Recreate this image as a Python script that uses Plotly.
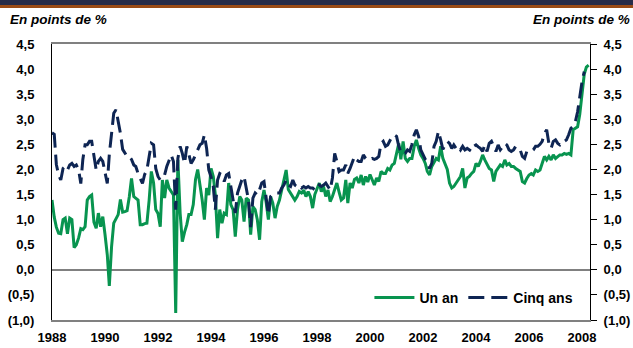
import pandas as pd
import plotly.graph_objects as go

# Monthly spreads, in percentage points, from January 1988
un_an = [
    1.39, 1.05, 0.85, 0.73, 0.72, 1.00, 1.03, 0.72, 1.03, 1.00, 0.44, 0.50,   # 1988
    0.63, 0.82, 0.80, 0.86, 1.39, 1.46, 1.49, 0.95, 0.83, 1.13, 0.86, 1.06,   # 1989
    0.70, 0.30, -0.32, 0.46, 0.93, 1.03, 1.10, 1.40, 1.15, 1.16, 1.18, 1.45,  # 1990
    1.82, 1.46, 1.43, 1.39, 0.90, 0.90, 0.92, 0.93, 1.39, 1.96, 1.73, 1.20,   # 1991
    1.12, 0.86, 1.79, 1.43, 1.79, 1.63, 1.56, 1.49, -0.86, 2.19, 1.13, 0.56,  # 1992
    0.75, 0.90, 1.10, 1.10, 1.30, 1.80, 2.00, 1.73, 1.39, 1.00, 1.63, 1.49,   # 1993
    2.02, 1.86, 1.50, 0.63, 1.20, 0.93, 1.13, 1.10, 1.73, 1.30, 1.20, 0.66,   # 1994
    1.20, 1.46, 1.39, 0.96, 1.43, 1.39, 0.70, 1.26, 1.20, 1.00, 0.60, 1.36,   # 1995
    1.59, 1.33, 1.00, 1.46, 1.33, 1.03, 1.26, 1.39, 1.59, 1.79, 1.99, 1.60,   # 1996
    1.53, 1.45, 1.39, 1.46, 1.56, 1.53, 1.59, 1.46, 1.56, 1.46, 1.23, 1.50,   # 1997
    1.63, 1.73, 1.56, 1.66, 1.46, 1.59, 1.36, 1.46, 1.60, 1.73, 1.55, 1.39,   # 1998
    1.43, 1.79, 1.33, 1.73, 1.63, 1.80, 1.83, 1.73, 1.89, 1.69, 1.86, 1.75,   # 1999
    1.90, 1.79, 1.69, 1.83, 1.76, 1.96, 1.92, 1.92, 2.02, 1.99, 2.09, 2.12,   # 2000
    2.30, 2.52, 2.20, 2.56, 2.22, 2.16, 2.22, 2.22, 2.46, 2.59, 2.42, 2.29,   # 2001
    2.22, 2.12, 1.96, 1.89, 2.06, 2.16, 2.22, 2.19, 2.46, 2.22, 2.09, 2.00,   # 2002
    1.73, 1.63, 1.66, 1.73, 1.79, 1.86, 2.02, 1.63, 1.83, 1.86, 1.92, 1.96,   # 2003
    2.12, 2.06, 2.16, 2.29, 2.19, 2.09, 2.02, 1.99, 1.76, 1.96, 2.02, 2.09,   # 2004
    2.06, 2.19, 2.09, 2.12, 2.06, 2.06, 2.02, 1.99, 1.96, 1.76, 1.73, 1.82,   # 2005
    1.89, 1.92, 1.89, 1.99, 1.96, 1.99, 2.15, 2.26, 2.19, 2.26, 2.19, 2.29,   # 2006
    2.22, 2.26, 2.29, 2.29, 2.32, 2.30, 2.32, 2.29, 2.79, 2.82, 2.85, 3.10,   # 2007
    3.50, 3.90, 4.04, 4.08,                                                   # 2008
]

cinq_ans = [
    2.73, 2.70, 2.10, 1.89, 1.79, 2.02, 2.06, 1.99, 2.09, 2.12, 2.06, 2.09,   # 1988
    2.00, 1.72, 2.20, 2.49, 2.49, 2.56, 2.56, 2.26, 1.99, 2.16, 2.22, 2.16,   # 1989
    1.92, 1.72, 2.30, 2.80, 3.12, 3.19, 2.99, 2.72, 2.40, 2.32, 2.26, 2.26,   # 1990
    2.20, 2.09, 2.06, 1.92, 1.82, 1.72, 1.90, 1.99, 2.26, 2.52, 2.49, 2.02,   # 1991
    1.86, 1.79, 1.83, 1.89, 2.06, 2.16, 2.29, 2.16, 1.20, 2.22, 2.46, 2.32,   # 1992
    2.12, 2.46, 2.29, 2.12, 2.19, 2.29, 2.42, 2.49, 2.52, 2.69, 2.42, 1.99,   # 1993
    1.85, 1.66, 1.20, 1.79, 1.92, 1.89, 1.76, 1.89, 1.92, 1.66, 1.43, 1.13,   # 1994
    1.53, 1.66, 1.79, 1.86, 1.63, 1.39, 0.85, 1.43, 1.53, 1.49, 1.60, 1.73,   # 1995
    1.76, 1.39, 1.10, 1.46, 1.49, 1.49, 1.53, 1.53, 1.63, 1.69, 1.79, 1.69,   # 1996
    1.66, 1.79, 1.69, 1.66, 1.69, 1.63, 1.66, 1.63, 1.66, 1.63, 1.63, 1.59,   # 1997
    1.59, 1.69, 1.66, 1.69, 1.73, 1.66, 1.59, 1.83, 2.32, 2.16, 1.96, 1.99,   # 1998
    1.99, 2.09, 1.92, 2.02, 2.16, 2.26, 2.19, 2.16, 2.16, 2.29, 2.22, 2.19,   # 1999
    2.19, 2.22, 2.20, 2.22, 2.26, 2.52, 2.56, 2.46, 2.49, 2.59, 2.66, 2.69,   # 2000
    2.66, 2.46, 2.35, 2.30, 2.32, 2.39, 2.36, 2.50, 2.69, 2.79, 2.66, 2.39,   # 2001
    2.30, 2.20, 2.16, 2.02, 2.12, 2.46, 2.56, 2.76, 2.59, 2.40, 2.49, 2.56,   # 2002
    2.52, 2.42, 2.49, 2.42, 2.46, 2.39, 2.46, 2.39, 2.42, 2.39, 2.36, 2.46,   # 2003
    2.49, 2.45, 2.42, 2.36, 2.49, 2.36, 2.52, 2.56, 2.46, 2.36, 2.49, 2.39,   # 2004
    2.45, 2.52, 2.49, 2.39, 2.36, 2.39, 2.46, 2.42, 2.39, 2.26, 2.22, 2.36,   # 2005
    2.36, 2.36, 2.39, 2.46, 2.46, 2.50, 2.56, 2.72, 2.79, 2.52, 2.42, 2.56,   # 2006
    2.59, 2.52, 2.49, 2.56, 2.56, 2.59, 2.69, 2.82, 2.86, 2.95, 3.15, 3.45,   # 2007
    3.75, 3.95,                                                               # 2008
]

y_tick_values = [-1.0, -0.5, 0.0, 0.5, 1.0, 1.5, 2.0, 2.5, 3.0, 3.5, 4.0, 4.5]
y_tick_labels = ["(1,0)", "(0,5)", "0,0", "0,5", "1,0", "1,5",
                 "2,0", "2,5", "3,0", "3,5", "4,0", "4,5"]
year_labels = [str(y) for y in range(1988, 2009, 2)]

GREEN = "#08944f"
NAVY = "#0e2553"
GREY = "#808080"
FONT = "Liberation Sans, Arial, sans-serif"

dates_un = pd.date_range("1988-01-01", periods=len(un_an), freq="MS")
dates_cinq = pd.date_range("1988-01-01", periods=len(cinq_ans), freq="MS")

fig = go.Figure()
fig.add_trace(go.Scatter(
    x=dates_un, y=un_an, name="Un an", mode="lines",
    line=dict(color=GREEN, width=3),
))
fig.add_trace(go.Scatter(
    x=dates_cinq, y=cinq_ans, name="Cinq ans", mode="lines",
    line=dict(color=NAVY, width=3, dash="16px,7px"),
))

tickfont = dict(family=FONT, size=13, color="#000000", weight=700)

fig.update_layout(
    width=633, height=348,
    margin=dict(l=52, r=43, t=44, b=28),
    paper_bgcolor="white", plot_bgcolor="white",
    showlegend=True,
    legend=dict(
        orientation="h", x=0.59, y=0.08, xanchor="left", yanchor="middle",
        font=dict(family=FONT, size=14, color="#000000", weight=700),
        bgcolor="rgba(0,0,0,0)", itemwidth=40, tracegroupgap=0,
    ),
    xaxis=dict(
        type="date", automargin=False,
        range=["1988-01-01", "2008-04-20"],
        tickvals=[f"{y}-01-01" for y in year_labels],
        ticktext=year_labels,
        showgrid=False, zeroline=False,
        showline=True, linecolor=GREY, linewidth=2, mirror=True,
        ticks="", ticklabelstandoff=4,
        tickfont=tickfont,
    ),
    yaxis=dict(
        range=[-1.0, 4.5], automargin=False,
        tickvals=y_tick_values, ticktext=y_tick_labels,
        showgrid=False,
        zeroline=True, zerolinecolor=GREY, zerolinewidth=2,
        showline=True, linecolor="#000000", linewidth=1,
        ticks="", ticklabelstandoff=14,
        tickfont=tickfont,
    ),
    yaxis2=dict(
        range=[-1.0, 4.5], overlaying="y", side="right", matches="y",
        automargin=False,
        tickvals=y_tick_values, ticktext=y_tick_labels,
        showgrid=False, zeroline=False,
        showline=True, linecolor="#000000", linewidth=1,
        ticks="outside", ticklen=6, tickcolor="#000000", tickwidth=1,
        ticklabelstandoff=4,
        tickfont=tickfont,
    ),
)

# Right-hand axis carries the same scale as the left one
fig.add_trace(go.Scatter(x=[dates_un[0]], y=[None], yaxis="y2",
                         showlegend=False, hoverinfo="skip"))

unit_font = dict(family=FONT, size=13.5, color="#000000", weight=700, style="italic")
fig.add_annotation(text="En points de %", xref="paper", yref="paper",
                   x=-0.0818, y=1.087, xanchor="left", yanchor="middle",
                   showarrow=False, font=unit_font)
fig.add_annotation(text="En points de %", xref="paper", yref="paper",
                   x=1.078, y=1.087, xanchor="right", yanchor="middle",
                   showarrow=False, font=unit_font)

# Header band along the top edge
fig.add_shape(type="rect", xref="paper", yref="paper",
              x0=-0.0967, x1=1.0799, y0=1.1413, y1=1.1594,
              fillcolor="#262b48", line=dict(width=0), layer="above")
fig.add_shape(type="rect", xref="paper", yref="paper",
              x0=-0.0967, x1=1.0799, y0=1.1304, y1=1.1413,
              fillcolor="#9a4b16", line=dict(width=0), layer="above")

fig.write_html("out.html")
